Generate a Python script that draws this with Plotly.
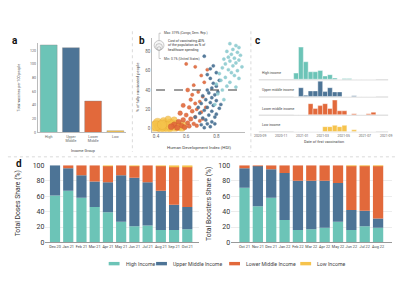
import plotly.graph_objects as go
import datetime as _dt

# ---------------- DATA ----------------
income_groups = ["High", "Upper<br>Middle", "Lower<br>Middle", "Low"]
vaccines_per_100 = [128, 124, 46, 2.5]

# panel b: HDI, % fully vaccinated, cost of vaccinating 40% (% of health spending)
hdi_high = [0.89, 0.93, 0.95, 0.91, 0.87, 0.94, 0.90, 0.96, 0.88, 0.92, 0.85, 0.95, 0.89, 0.93,
            0.86, 0.91, 0.97, 0.84, 0.88, 0.94, 0.90, 0.82, 0.92, 0.86, 0.95, 0.83, 0.89, 0.80,
            0.87, 0.93, 0.84, 0.81, 0.85, 0.79]
vax_high = [88, 86, 84, 82, 80, 79, 77, 76, 74, 73, 72, 71, 70, 68, 67, 65, 64, 63, 61, 60, 58,
            57, 55, 53, 52, 50, 48, 46, 44, 43, 40, 36, 30, 25]
cost_high = [0.3, 0.2, 0.1, 0.4, 0.6, 0.2, 0.5, 0.1, 0.7, 0.3, 0.9, 0.2, 0.6, 0.3, 0.8, 0.4, 0.1,
             1.0, 0.7, 0.3, 0.5, 1.2, 0.4, 0.9, 0.2, 1.1, 0.6, 1.4, 0.8, 0.3, 1.0, 1.3, 0.9, 1.6]

hdi_upper = [0.72, 0.78, 0.76, 0.80, 0.74, 0.76, 0.82, 0.78, 0.80, 0.77, 0.74, 0.81, 0.75, 0.79,
             0.71, 0.77, 0.73, 0.80, 0.76, 0.70, 0.78, 0.74, 0.82, 0.72, 0.77, 0.69, 0.80, 0.75,
             0.79, 0.71, 0.73, 0.77, 0.74, 0.70, 0.76, 0.72, 0.66, 0.68, 0.83, 0.79]
vax_upper = [75, 65, 62, 58, 56, 52, 50, 47, 44, 42, 40, 38, 37, 35, 34, 32, 30, 29, 27, 26, 24,
             22, 21, 19, 18, 16, 15, 14, 12, 11, 9, 7, 5, 4, 2, 1, 12, 22, 25, 5]
cost_upper = [3, 4, 5, 3, 6, 4, 2, 5, 3, 6, 7, 3, 5, 4, 8, 5, 6, 3, 7, 9, 4, 6, 3, 8, 5, 10, 4, 7,
              5, 9, 8, 6, 7, 10, 6, 9, 12, 11, 3, 6]

hdi_lower = [0.60, 0.66, 0.74, 0.70, 0.72, 0.65, 0.68, 0.71, 0.63, 0.69, 0.66, 0.58, 0.62, 0.67,
             0.64, 0.70, 0.56, 0.60, 0.66, 0.63, 0.58, 0.69, 0.55, 0.61, 0.65, 0.52, 0.57, 0.62,
             0.59, 0.54, 0.50, 0.67, 0.71, 0.73, 0.64, 0.61]
vax_lower = [67, 64, 61, 55, 48, 45, 38, 33, 30, 28, 26, 24, 22, 20, 18, 17, 16, 14, 12, 10, 9,
             8, 7, 6, 5, 4, 3, 2.5, 1.5, 1, 2, 3, 10, 22, 35, 40]
cost_lower = [18, 15, 12, 14, 11, 20, 16, 13, 25, 17, 22, 35, 28, 19, 30, 15, 40, 33, 24, 38, 45,
              20, 50, 36, 27, 60, 42, 34, 48, 55, 65, 26, 18, 14, 22, 30]

hdi_low = [0.39, 0.42, 0.44, 0.46, 0.48, 0.50, 0.51, 0.53, 0.45, 0.41, 0.47, 0.55, 0.52, 0.49,
           0.43, 0.57, 0.40, 0.54, 0.58, 0.48, 0.44]
vax_low = [1, 3, 1, 5, 2, 6, 1, 3, 8, 6, 0.5, 2, 9, 4, 2, 1, 3, 5, 4, 10, 4]
cost_low = [319, 180, 240, 150, 210, 120, 260, 140, 90, 160, 280, 110, 75, 200, 230, 130, 190,
            100, 85, 70, 170]

# panel c: date of first vaccination, binned (share of countries, %)
bin_starts = ["2020-12-07", "2020-12-21", "2021-01-04", "2021-01-18", "2021-02-01", "2021-02-15",
              "2021-03-01", "2021-03-15", "2021-03-29", "2021-04-12", "2021-04-26", "2021-05-10",
              "2021-05-24", "2021-06-07", "2021-06-21", "2021-07-05", "2021-07-19"]
first_high = [6.3, 33, 18, 7.7, 7.7, 9, 3.3, 4.7, 1.3, 0, 0.8, 0.8, 0, 0, 0, 0, 0]
first_upper = [0, 9, 1.3, 5.7, 5.7, 15.7, 5, 9, 4.7, 4.7, 0, 0, 0.8, 0, 0, 0, 0]
first_lower = [0, 0, 0, 11.3, 6.3, 9.3, 11.3, 6.3, 15, 4, 4, 0, 1, 0, 0, 1, 2.5]
first_low = [0, 0, 0, 0, 0, 0, 5, 5, 6.3, 5, 6.3, 0, 1.7, 0, 0, 0, 0]
row_labels = ["High income", "Upper middle income", "Lower middle income", "Low income"]
c_ticks = ["2020-09-01", "2020-11-01", "2021-01-01", "2021-03-01", "2021-05-01", "2021-07-01",
           "2021-09-01"]

# panel d
dose_months = ["Dec 20", "Jan 21", "Feb 21", "Mar 21", "Apr 21", "May 21", "Jun 21", "Jul 21",
               "Aug 21", "Sep 21", "Oct 21"]
doses_high = [61, 67, 58, 46, 39, 27, 21, 22, 16, 16, 17]
doses_upper = [39, 29, 29, 33, 39, 60, 63, 56, 51, 33, 29]
doses_lower = [0, 4, 13, 21, 21, 13, 15, 22, 32, 49, 52]
doses_low = [0, 0, 0, 0, 0.5, 0, 0.5, 0.2, 0.5, 1.5, 1.5]

boost_months = ["Oct 21", "Nov 21", "Dec 21", "Jan 22", "Feb 22", "Mar 22", "Apr 22", "May 22",
                "Jun 22", "Jul 22", "Aug 22"]
boost_high = [71, 47, 58, 29, 16, 17, 19, 27, 16, 21, 19]
boost_upper = [25, 52, 37, 61, 64, 63, 61, 50, 26, 20, 12]
boost_lower = [4, 1, 5, 10, 20, 20, 20, 23, 57.5, 58.5, 68.5]
boost_low = [0, 0, 0, 0, 0, 0, 0, 0, 0.5, 0.5, 0.5]

legend_names = ["High Income", "Upper Middle Income", "Lower Middle Income", "Low Income"]

# ---------------- STYLE ----------------
W, H = 400, 300
C_HIGH, C_UM, C_LM, C_LOW = "#6cc4b7", "#4d7496", "#e2693b", "#f6c34c"
COLS = [C_HIGH, C_UM, C_LM, C_LOW]
FONT = "Roboto"
GREY = "#666666"


def px(x):
    return x / W


def py(y):
    return 1 - y / H


fig = go.Figure()

# ---- panel a ----
fig.add_trace(go.Bar(x=income_groups, y=vaccines_per_100,
                     marker=dict(color=COLS, line=dict(color="#888", width=0.4)),
                     width=0.76, xaxis="x", yaxis="y", showlegend=False))

# ---- panel b ----
SIZEREF = 2 * 319 / 13 ** 2
for hx, vy, cs, col, lc, op in [
    (hdi_low, vax_low, cost_low, C_LOW, "#e0a530", 0.8),
    (hdi_lower, vax_lower, cost_lower, C_LM, "#c9552b", 0.9),
    (hdi_upper, vax_upper, cost_upper, C_UM, C_UM, 0.95),
    (hdi_high, vax_high, cost_high, "#8ccbd0", "#8ccbd0", 0.9),
]:
    fig.add_trace(go.Scatter(x=hx, y=vy, mode="markers", xaxis="x2", yaxis="y2", showlegend=False,
                             marker=dict(size=cs, sizemode="area", sizeref=SIZEREF, sizemin=1.6,
                                         color=col, opacity=op, line=dict(color=lc, width=0.4))))

# ---- panel c (ridgeline histograms) ----
row_offsets = [53.7, 36.0, 17.3, 0.0]
DAY_MS = 86400000
centers = [(_dt.date.fromisoformat(d) + _dt.timedelta(days=7)).isoformat() for d in bin_starts]
for vals, col, off in zip([first_high, first_upper, first_lower, first_low], COLS, row_offsets):
    fig.add_trace(go.Bar(x=centers, y=vals, base=[off] * len(vals), width=[14 * DAY_MS] * len(vals),
                         marker=dict(color=col, line=dict(color="white", width=0.4)),
                         xaxis="x3", yaxis="y3", showlegend=False))


# ---- panel d ----
def stacked(months, series, xa, ya):
    base = [0] * len(months)
    for vals, col in zip(series, COLS):
        fig.add_trace(go.Bar(x=months, y=vals, base=list(base), width=0.77,
                             marker=dict(color=col, line=dict(width=0)),
                             xaxis=xa, yaxis=ya, showlegend=False))
        base = [b + v for b, v in zip(base, vals)]


stacked(dose_months, [doses_high, doses_upper, doses_lower, doses_low], "x4", "y4")
stacked(boost_months, [boost_high, boost_upper, boost_lower, boost_low], "x5", "y5")

tickf_small = dict(family=FONT, size=3.6, color=GREY)
tickf_b = dict(family=FONT, size=4.6, color=GREY)
tickf_d = dict(family=FONT, size=7, color="#333")
axl = dict(showline=True, linecolor="#bbbbbb", linewidth=0.8, ticks="", zeroline=False, showgrid=False)

fig.update_layout(
    width=W, height=H, autosize=False, margin=dict(l=0, r=0, t=0, b=0),
    paper_bgcolor="white", plot_bgcolor="white", barmode="overlay", showlegend=False,
    font=dict(family=FONT),
    xaxis=dict(domain=[px(33), px(123)], anchor="y", tickfont=tickf_small, tickangle=0, **axl),
    yaxis=dict(domain=[py(132), py(40)], anchor="x", range=[0, 131], tickvals=[0, 20, 40, 60, 80, 100, 120],
               tickfont=tickf_small, **axl),
    xaxis2=dict(domain=[px(149), px(243)], anchor="y2", range=[0.374, 0.99], tickvals=[0.4, 0.6, 0.8],
                tickformat=".1f", tickfont=tickf_b, **axl),
    yaxis2=dict(domain=[py(131), py(35)], anchor="x2", range=[-3, 93.8], tickvals=[0, 20, 40, 60, 80],
                tickfont=tickf_b, **axl),
    xaxis3=dict(domain=[px(257), px(392)], anchor="y3", type="date", range=["2020-08-28", "2021-09-18"],
                tickvals=c_ticks, tickformat="%Y-%m", tickfont=dict(family=FONT, size=3.4, color=GREY),
                showline=False, showgrid=False, zeroline=False, ticks="", tickangle=0),
    yaxis3=dict(domain=[py(132), py(40)], anchor="x3", range=[-1, 91], visible=False),
    xaxis4=dict(domain=[px(41), px(196)], anchor="y4", range=[-0.72, 10.85], tickangle=0,
                tickfont=dict(family=FONT, size=3.8, color="#444"),
                showline=True, linecolor="#999", linewidth=0.8, showgrid=False, ticks=""),
    yaxis4=dict(domain=[py(245), py(165.7)], anchor="x4", range=[0, 100], tickvals=[0, 20, 40, 60, 80, 100],
                tickfont=tickf_d, showgrid=True, gridcolor="#ececec", gridwidth=0.6, zeroline=False,
                showline=False, ticks=""),
    xaxis5=dict(domain=[px(229), px(392)], anchor="y5", range=[-1.0, 11.05], tickangle=0,
                tickfont=dict(family=FONT, size=3.8, color="#444"),
                showline=True, linecolor="#999", linewidth=0.8, showgrid=False, ticks=""),
    yaxis5=dict(domain=[py(245), py(165.7)], anchor="x5", range=[0, 100], tickvals=[0, 20, 40, 60, 80, 100],
                tickfont=tickf_d, showgrid=True, gridcolor="#ececec", gridwidth=0.6, zeroline=False,
                showline=False, ticks=""),
)

ann = []
shapes = []


def text(x, y, s, size, color="#333", xanchor="center", yanchor="middle", angle=0, bold=False, align="center"):
    ann.append(dict(x=px(x), y=py(y), xref="paper", yref="paper", text=f"<b>{s}</b>" if bold else s,
                    showarrow=False, xanchor=xanchor, yanchor=yanchor, textangle=angle, align=align,
                    font=dict(family=FONT, size=size, color=color)))


# panel letters
text(10.5, 37, "a", 10, "#111", bold=True)
text(138.5, 37, "b", 10, "#111", bold=True)
text(256, 37, "c", 10, "#111", bold=True)
text(14, 164, "d", 10, "#111", bold=True)

# axis titles
text(14, 86, "Total vaccines per 100 people", 3.6, "#444", angle=-90)
text(79, 150, "Income Group", 3.8, "#444")
text(134, 86, "% of fully vaccinated people", 4.0, "#444", angle=-90)
text(196, 147, "Human Development Index (HDI)", 4.4, "#444")
text(323, 141.5, "Date of first vaccination", 3.8, "#444")
text(13, 205, "Total Doses Share (%)", 6.8, "#333", angle=-90)
text(206, 205, "Total Boosters Share (%)", 6.8, "#333", angle=-90)

# panel c row labels + baselines
for lab, off in zip(row_labels, row_offsets):
    ann.append(dict(x=px(258), y=off + 2.2, xref="paper", yref="y3", text=lab, showarrow=False,
                    xanchor="left", yanchor="bottom", font=dict(family=FONT, size=3.4, color="#444")))
    shapes.append(dict(type="line", xref="paper", yref="y3", x0=px(257), x1=px(388), y0=off - 0.6, y1=off - 0.6,
                       line=dict(color="#e2e2e2", width=1.6), layer="below"))

# panel b: 40% dashed line
shapes.append(dict(type="line", xref="x2", yref="y2", x0=0.4, x1=0.968, y0=40, y1=40, layer="above",
                   line=dict(color="#3a3a3a", width=1.1, dash="dash")))

# panel b size legend
for r in [5.0, 3.4, 1.8]:
    shapes.append(dict(type="circle", xref="paper", yref="paper", x0=px(156 - r), x1=px(156 + r),
                       y0=py(47.5), y1=py(47.5 - 2 * r), line=dict(color="#999", width=0.5),
                       fillcolor="rgba(240,240,240,0.6)"))
shapes.append(dict(type="line", xref="paper", yref="paper", x0=px(156), x1=px(156), y0=py(30), y1=py(37.5),
                   line=dict(color="#999", width=0.5)))
shapes.append(dict(type="line", xref="paper", yref="paper", x0=px(156), x1=px(156), y0=py(47.5), y1=py(56),
                   line=dict(color="#999", width=0.5)))
shapes.append(dict(type="line", xref="paper", yref="paper", x0=px(156), x1=px(158), y0=py(30), y1=py(30),
                   line=dict(color="#999", width=0.5)))
shapes.append(dict(type="line", xref="paper", yref="paper", x0=px(156), x1=px(158), y0=py(56), y1=py(56),
                   line=dict(color="#999", width=0.5)))
text(159, 30, "Max: 319% (Congo, Dem. Rep.)", 3.2, "#444", xanchor="left")
text(163, 43, "Cost of vaccinating 40%<br>of the population as % of<br>healthcare spending", 3.4, "#333",
     xanchor="left", align="left")
text(159, 56, "Min: 0.1% (United States)", 3.2, "#444", xanchor="left")

# separators
for x in [129, 249]:
    shapes.append(dict(type="line", xref="paper", yref="paper", x0=px(x), x1=px(x), y0=py(28), y1=py(152),
                       line=dict(color="#cccccc", width=0.7, dash="dot")))
shapes.append(dict(type="line", xref="paper", yref="paper", x0=px(3), x1=px(397), y0=py(157), y1=py(157),
                   line=dict(color="#cccccc", width=0.7, dash="dot")))

# bottom legend
leg_x = [105, 153, 227, 299]
for name, col, lx in zip(legend_names, COLS, leg_x):
    shapes.append(dict(type="rect", xref="paper", yref="paper", x0=px(lx), x1=px(lx + 11), y0=py(268.5),
                       y1=py(265), fillcolor=col, line=dict(width=0)))
    text(lx + 15, 266.8, name, 5.2, "#444", xanchor="left")

fig.update_layout(annotations=ann, shapes=shapes)
fig.write_html("out.html", config={"displayModeBar": False},
               post_script="document.body.style.margin='0';document.body.style.overflow='hidden';")
